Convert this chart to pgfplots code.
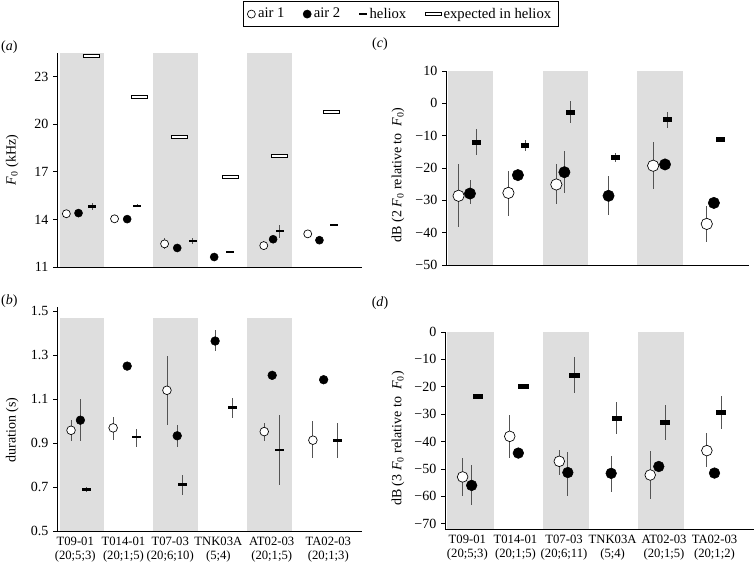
\documentclass[border=0pt]{standalone}
\usepackage{fontspec}
\setmainfont{Liberation Serif}
\usepackage{pgfplots}
\pgfplotsset{compat=1.18}
\definecolor{band}{gray}{0.87}
\definecolor{ebar}{gray}{0.33}
\pgfdeclareplotmark{helA}{\pgfpathrectangle{\pgfpoint{-3pt}{-0.8pt}}{\pgfpoint{6pt}{1.6pt}}\pgfusepathqfill}
\pgfdeclareplotmark{expA}{\pgfpathrectangle{\pgfpoint{-6pt}{-1.1pt}}{\pgfpoint{12pt}{2.2pt}}\pgfusepathqfillstroke}
\pgfdeclareplotmark{helB}{\pgfpathrectangle{\pgfpoint{-3.4pt}{-1pt}}{\pgfpoint{6.8pt}{2pt}}\pgfusepathqfill}
\pgfdeclareplotmark{helC}{\pgfpathrectangle{\pgfpoint{-3.3pt}{-1.75pt}}{\pgfpoint{6.6pt}{3.5pt}}\pgfusepathqfill}
\pgfdeclareplotmark{helD}{\pgfpathrectangle{\pgfpoint{-4pt}{-1.75pt}}{\pgfpoint{8pt}{3.5pt}}\pgfusepathqfill}
\pgfplotsset{
  base/.style={scale only axis, axis x line=bottom, axis y line=left,
    axis line style={-, line width=0.6pt}, tick align=outside,
    xtick style={draw=none}, ytick style={line width=0.6pt, black}, major tick length=3pt,
    /pgf/number format/assume math mode=true,
    yticklabel style={font=\fontsize{10.5}{12}\selectfont},
    ylabel style={font=\fontsize{10.5}{12}\selectfont, anchor=center},
    xticklabel style={align=center, inner sep=1pt, font=\fontsize{9.5}{10.8}\selectfont},
  },
  limg/.style={legend image code/.code={\draw[##1] plot[only marks] coordinates {(0cm,0cm)};}},
  eb/.style={error bars/y dir=both, error bars/y explicit, error bars/error mark=none,
    error bars/error bar style={ebar, line width=0.65pt}},
  aone/.style={only marks, mark=*, mark size=#1, mark options={fill=white, draw=black, line width=0.5pt}, eb, limg},
  atwo/.style={only marks, mark=*, mark size=#1, mark options={fill=black, draw=black}, eb, limg},
  hel/.style={only marks, mark=#1, mark options={fill=black, draw=none}, eb, limg},
}
\begin{document}
\begin{tikzpicture}
\useasboundingbox (0,0) rectangle (567pt,422.25pt);
% panel labels
\node[font=\fontsize{10.5}{12}\selectfont] at (7pt,387pt) {(\textit{a})};
\node[font=\fontsize{10.5}{12}\selectfont] at (7pt,196.5pt) {(\textit{b})};
\node[font=\fontsize{10.5}{12}\selectfont] at (285pt,389pt) {(\textit{c})};
\node[font=\fontsize{10.5}{12}\selectfont] at (285pt,195pt) {(\textit{d})};
% (a)
\begin{axis}[base, at={(42.75pt,222pt)}, anchor=south west, width=228.75pt, height=160.5pt,
  xmin=-0.06, xmax=6.46, ymin=11, ymax=24.5, ytick={11,14,17,20,23}, xtick=\empty,
  ylabel={\textit{F}\textsubscript{0} (kHz)},
  ylabel style={at={(axis description cs:-0.147,0.5)}},
  legend columns=4,
  legend style={at={(axis description cs:0.61,1.243)}, anchor=north west, draw=black, line width=0.5pt,
    font=\fontsize{11}{13}\selectfont, inner sep=3pt,
    /tikz/every even column/.append style={column sep=12pt}},
  legend cell align=left]
\addplot[fill=band, draw=none, forget plot] coordinates {(0,11) (0,24.5) (0.954,24.5) (0.954,11)} -- cycle;
\addplot[fill=band, draw=none, forget plot] coordinates {(2,11) (2,24.5) (2.954,24.5) (2.954,11)} -- cycle;
\addplot[fill=band, draw=none, forget plot] coordinates {(4,11) (4,24.5) (4.954,24.5) (4.954,11)} -- cycle;
\addplot[aone=3pt] coordinates {(0.14,14.36) (1.17,14.04) +- (0,0.15) (2.24,12.46) +- (0,0.35) (4.36,12.35) +- (0,0.3) (5.30,13.09)};
\addplot[atwo=3pt] coordinates {(0.40,14.40) (1.44,14.02) (2.51,12.20) (3.30,11.63) (4.56,12.75) (5.55,12.69)};
\addplot[hel=helA] coordinates {(0.69,14.82) +- (0,0.2) (1.65,14.87) +- (0,0.1) (2.84,12.63) +- (0,0.2) (3.63,11.97) +- (0,0.05) (4.70,13.26) +- (0,0.4) (5.87,13.64) +- (0,0.05)};
\addplot[only marks, mark=expA, mark options={fill=white, draw=black, line width=0.4pt}, limg] coordinates {(0.68,24.31) (1.69,21.73) (2.55,19.22) (3.64,16.70) (4.70,18.03) (5.81,20.78)};
\legend{air 1, air 2, heliox, expected in heliox}
\end{axis}
% (b)
\begin{axis}[base, at={(42.75pt,24pt)}, anchor=south west, width=228.75pt, height=168.2pt,
  xmin=-0.06, xmax=6.46, ymin=0.5, ymax=1.52, ytick={0.5,0.7,0.9,1.1,1.3,1.5},
  yticklabel style={/pgf/number format/fixed, /pgf/number format/precision=1},
  xtick={0.33,1.36,2.36,3.39,4.53,5.74},
  xticklabels={{T09-01\\(20;5;3)},{T014-01\\(20;1;5)},{T07-03\\(20;6;10)},{TNK03A\\(5;4)},{AT02-03\\(20;1;5)},{TA02-03\\(20;1;3)}},
  ylabel={duration (s)},
  ylabel style={at={(axis description cs:-0.147,0.45)}}]
\addplot[fill=band, draw=none, forget plot] coordinates {(0,0.5) (0,1.47) (0.954,1.47) (0.954,0.5)} -- cycle;
\addplot[fill=band, draw=none, forget plot] coordinates {(2,0.5) (2,1.47) (2.954,1.47) (2.954,0.5)} -- cycle;
\addplot[fill=band, draw=none, forget plot] coordinates {(4,0.5) (4,1.47) (4.954,1.47) (4.954,0.5)} -- cycle;
\addplot[aone=3.25pt] coordinates {(0.24,0.958) += (0,0.047) -= (0,0.048) (1.14,0.969) += (0,0.05) -= (0,0.053) (2.29,1.14) += (0,0.154) -= (0,0.159) (4.37,0.952) += (0,0.041) -= (0,0.042) (5.41,0.913) += (0,0.087) -= (0,0.083)};
\addplot[atwo=3.25pt] coordinates {(0.44,1.004) += (0,0.096) -= (0,0.094) (1.44,1.25) (2.51,0.933) += (0,0.047) -= (0,0.05) (3.32,1.364) += (0,0.048) -= (0,0.047) (4.54,1.208) (5.64,1.188)};
\addplot[hel=helB] coordinates {(0.57,0.69) +- (0,0.012) (1.64,0.928) += (0,0.035) -= (0,0.045) (2.62,0.713) += (0,0.041) -= (0,0.051) (3.69,1.061) += (0,0.044) -= (0,0.045) (4.70,0.868) +- (0,0.159) (5.94,0.911) += (0,0.082) -= (0,0.081)};
\end{axis}
% (c)
\begin{axis}[base, at={(334.5pt,223.5pt)}, anchor=south west, width=227.25pt, height=145.5pt,
  xmin=-0.035, xmax=6.35, ymin=-50, ymax=10, ytick={-50,-40,-30,-20,-10,0,10},
  yticklabels={−50,−40,−30,−20,−10,0,10}, xtick=\empty,
  ylabel={dB (2 \textit{F}\textsubscript{0} relative to \ \textit{F}\textsubscript{0})},
  ylabel style={at={(axis description cs:-0.158,0.464)}}]
\addplot[fill=band, draw=none, forget plot] coordinates {(0,-50) (0,10) (0.95,10) (0.95,-50)} -- cycle;
\addplot[fill=band, draw=none, forget plot] coordinates {(2,-50) (2,10) (2.95,10) (2.95,-50)} -- cycle;
\addplot[fill=band, draw=none, forget plot] coordinates {(4,-50) (4,10) (4.95,10) (4.95,-50)} -- cycle;
\addplot[aone=4.25pt] coordinates {(0.23,-28.6) += (0,9.8) -= (0,9.5) (1.28,-27.7) += (0,6.8) -= (0,7.1) (2.29,-25.1) += (0,6.3) -= (0,6.0) (4.33,-19.3) += (0,7.2) -= (0,7.3) (5.46,-37.3) +- (0,5.5)};
\addplot[atwo=4.25pt] coordinates {(0.47,-27.9) += (0,4.2) -= (0,3.3) (1.48,-22.2) (2.46,-21.3) += (0,6.7) -= (0,6.5) (3.39,-28.6) += (0,6.2) -= (0,6.0) (4.58,-18.9) (5.61,-30.8)};
\addplot[hel=helC] coordinates {(0.60,-12.1) += (0,4.3) -= (0,3.9) (1.63,-13.0) += (0,1.7) -= (0,1.6) (2.58,-2.8) +- (0,3.4) (3.54,-16.7) += (0,1.2) -= (0,1.3) (4.63,-5.1) += (0,2.3) -= (0,2.6) (5.75,-11.2) += (0,0.9) -= (0,0.7)};
\end{axis}
% (d)
\begin{axis}[base, at={(333.75pt,25.3pt)}, anchor=south west, width=231.75pt, height=148pt,
  xmin=-0.05, xmax=6.44, ymin=-72, ymax=0, ytick={-70,-60,-50,-40,-30,-20,-10,0},
  yticklabels={−70,−60,−50,−40,−30,−20,−10,0},
  xtick={0.42,1.43,2.45,3.47,4.55,5.61},
  xticklabels={{T09-01\\(20;5;3)},{T014-01\\(20;1;5)},{T07-03\\(20;6;11)},{TNK03A\\(5;4)},{AT02-03\\(20;1;5)},{TA02-03\\(20;1;2)}},
  ylabel={dB (3 \textit{F}\textsubscript{0} relative to \ \textit{F}\textsubscript{0})},
  ylabel style={at={(axis description cs:-0.152,0.46)}}]
\addplot[fill=band, draw=none, forget plot] coordinates {(0,-72) (0,0) (0.97,0) (0.97,-72)} -- cycle;
\addplot[fill=band, draw=none, forget plot] coordinates {(2,-72) (2,0) (2.97,0) (2.97,-72)} -- cycle;
\addplot[fill=band, draw=none, forget plot] coordinates {(4,-72) (4,0) (4.97,0) (4.97,-72)} -- cycle;
\addplot[aone=4pt] coordinates {(0.32,-52.9) += (0,6.8) -= (0,7.0) (1.31,-38.1) += (0,7.8) -= (0,8.0) (2.35,-47.2) += (0,4.0) -= (0,5.0) (4.26,-52.2) += (0,8.9) -= (0,8.6) (5.45,-43.3) += (0,6.3) -= (0,6.1)};
\addplot[atwo=4pt] coordinates {(0.51,-56.0) += (0,7.5) -= (0,7.1) (1.49,-44.2) (2.53,-51.3) += (0,7.4) -= (0,8.6) (3.44,-51.6) += (0,6.5) -= (0,6.7) (4.44,-49.1) (5.61,-51.5)};
\addplot[hel=helD] coordinates {(0.64,-23.6) +- (0,1.0) (1.60,-20.0) += (0,1.0) -= (0,0.8) (2.67,-15.8) += (0,6.8) -= (0,6.6) (3.56,-31.5) += (0,6.1) -= (0,5.7) (4.57,-33.1) += (0,6.5) -= (0,6.4) (5.75,-29.4) += (0,6.0) -= (0,6.1)};
\end{axis}
\end{tikzpicture}
\end{document}
